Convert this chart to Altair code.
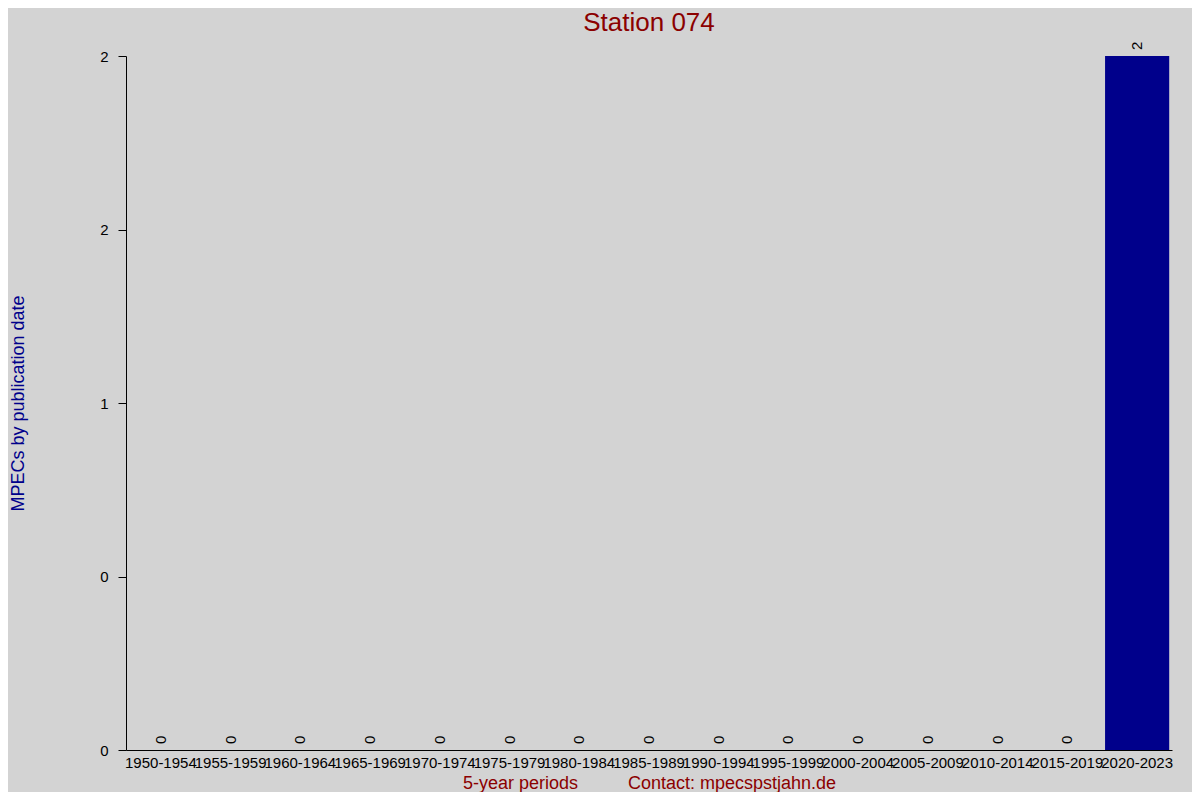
import altair as alt
import pandas as pd

periods = ["1950-1954", "1955-1959", "1960-1964", "1965-1969", "1970-1974",
           "1975-1979", "1980-1984", "1985-1989", "1990-1994", "1995-1999",
           "2000-2004", "2005-2009", "2010-2014", "2015-2019", "2020-2023"]
counts = [0, 0, 0, 0, 0, 0, 0, 0, 0, 0, 0, 0, 0, 0, 2]
y_tick_values = [0, 0.5, 1, 1.5, 2]
y_tick_labels = ["0", "0", "1", "2", "2"]

df = pd.DataFrame({"period": periods, "count": counts})

label_expr = " : ".join(
    [f"datum.value == {v} ? '{l}'" for v, l in zip(y_tick_values, y_tick_labels)]
) + " : ''"

FONT = "Liberation Sans"
NB = "\u00a0"
x_title = "5-year periods" + NB * 10 + "Contact: mpecspstjahn.de"

base = alt.Chart(df)

bars = base.mark_bar(color="#00008b").encode(
    x=alt.X("period:N", sort=periods,
            scale=alt.Scale(paddingInner=0.08, paddingOuter=0.04),
            axis=alt.Axis(title=x_title, labelAngle=0, ticks=False,
                          labelPadding=5, labelFontSize=15, labelColor="black",
                          labelFont=FONT, domainColor="black",
                          titleFont=FONT, titleFontSize=18, titleFontWeight="normal",
                          titleColor="#8b0000", titleBaseline="middle",
                          titleX=523, titleY=33)),
    y=alt.Y("count:Q", scale=alt.Scale(domain=[0, 2], nice=False),
            axis=alt.Axis(title="MPECs by publication date", values=y_tick_values,
                          labelExpr=label_expr, grid=False, tickSize=8,
                          tickColor="black", domainColor="black",
                          labelPadding=10, labelFontSize=15, labelColor="black",
                          labelFont=FONT, titleFont=FONT, titleFontSize=18,
                          titleFontWeight="normal", titleColor="#00008b",
                          titleBaseline="middle", titleX=-108, titleY=347)),
)

labels = base.mark_text(angle=270, align="left", baseline="middle", dx=6,
                        fontSize=15, font=FONT, color="black").encode(
    x=alt.X("period:N", sort=periods),
    y=alt.Y("count:Q"),
    text=alt.Text("count:Q"),
)

chart = (bars + labels).properties(
    width=1046, height=694,
    title=alt.TitleParams("Station 074", font=FONT, fontSize=26,
                          fontWeight="normal", color="#8b0000",
                          anchor="middle", offset=6),
    background="#d3d3d3",
    padding={"left": 118, "top": 48, "right": 20, "bottom": 42},
    autosize=alt.AutoSizeParams(type="none"),
).configure_view(stroke=None)

chart.save("out.html", embed_options={"renderer": "svg", "actions": False})
